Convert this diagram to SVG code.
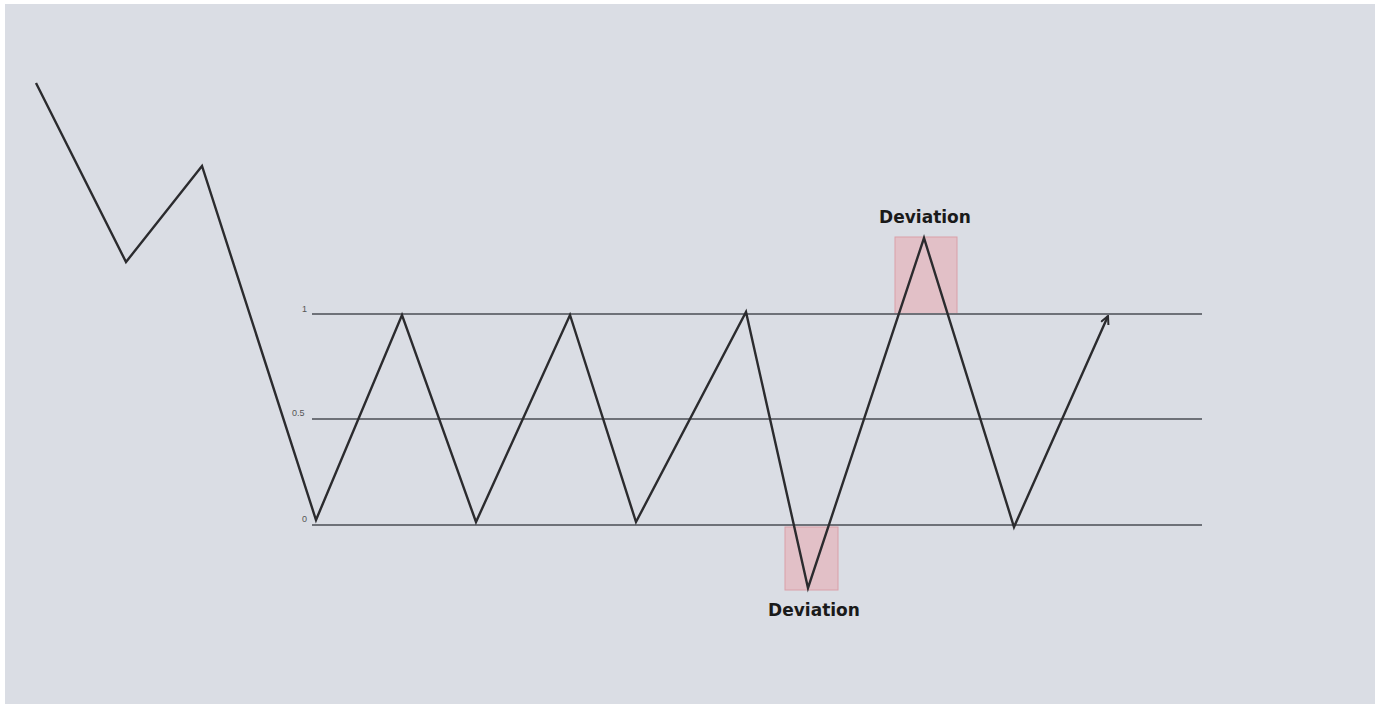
<svg xmlns="http://www.w3.org/2000/svg" width="1379" height="708" viewBox="0 0 1379 708">
<style>
.lvl{stroke:#6e7178;stroke-width:2;fill:none}
.lbl{font-family:"Liberation Sans",Arial,sans-serif;font-size:9px;fill:#555}
.price{stroke:#2b2b2e;stroke-width:2.4;fill:none;stroke-linejoin:miter}
.dev{fill:#e5b4bb;fill-opacity:0.7;stroke:#d9a0a8;stroke-width:1}
.dlbl{font-family:"DejaVu Sans",Verdana,sans-serif;font-weight:bold;font-size:17px;fill:#1a1a1a;text-anchor:middle}
</style>
<defs>
<marker id="arr" viewBox="0 0 10 10" refX="9" refY="5" markerWidth="10" markerHeight="10" markerUnits="userSpaceOnUse" orient="auto">
<path d="M1,1 L9,5 L1,9" fill="none" stroke="#2b2b2e" stroke-width="2"/>
</marker>
</defs>
<rect width="1379" height="708" fill="#ffffff"/>
<rect x="5" y="4" width="1370" height="700" fill="#dadde4"/>
<g id="deviation-top">
<rect class="dev" x="895" y="237" width="62" height="77"/>
<text class="dlbl" x="925" y="223">Deviation</text>
</g>
<g id="deviation-bottom">
<rect class="dev" x="785" y="527" width="53" height="63"/>
<text class="dlbl" x="814" y="616">Deviation</text>
</g>
<g id="levels">
<line class="lvl" x1="312" y1="314" x2="1202" y2="314"/>
<line class="lvl" x1="312" y1="419" x2="1202" y2="419"/>
<line class="lvl" x1="312" y1="525" x2="1202" y2="525"/>
<text class="lbl" x="302" y="312">1</text>
<text class="lbl" x="292" y="416">0.5</text>
<text class="lbl" x="302" y="522">0</text>
</g>
<g id="connectors">
<polyline class="price" marker-end="url(#arr)" points="36,83 126,262 202,166 316,520 402,315 476,522 570,315 636,522 746,312 808,588 924,238 1014,527 1108,316"/>
</g>
</svg>
